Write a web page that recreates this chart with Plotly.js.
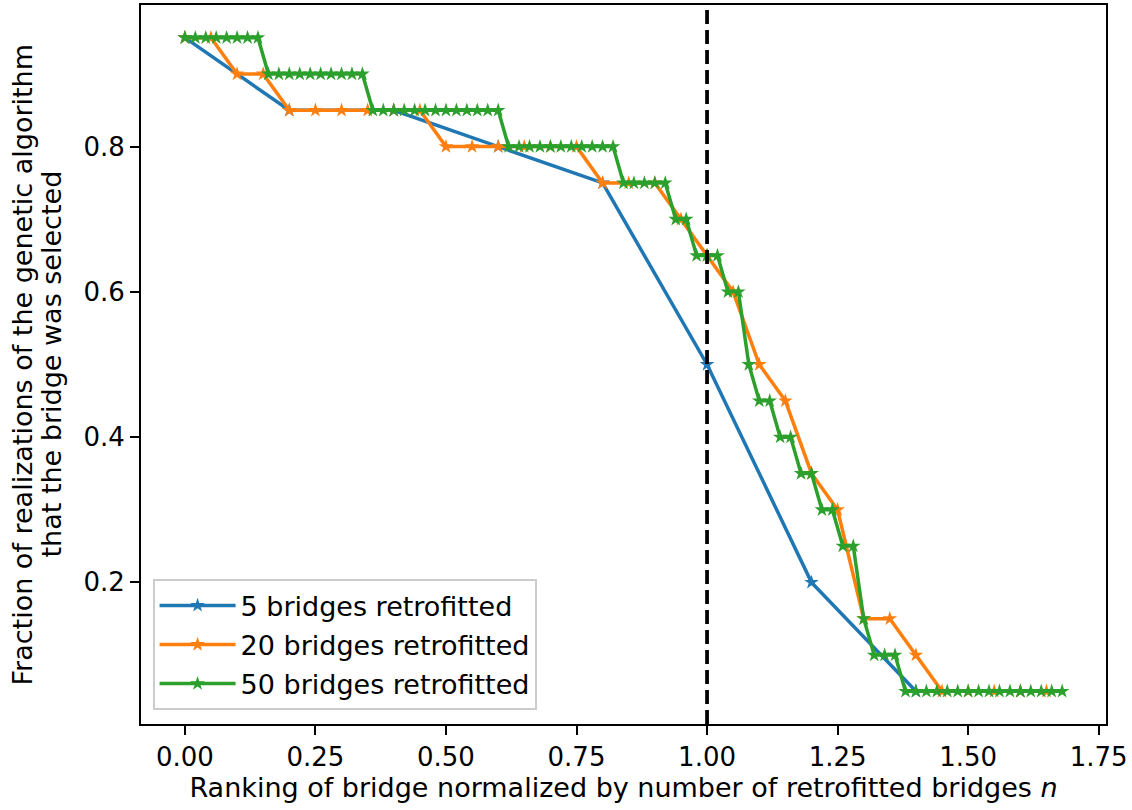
<!DOCTYPE html>
<html>
<head>
<meta charset="utf-8">
<script src="https://cdn.plot.ly/plotly-3.0.1.min.js"></script>
<style>html,body{margin:0;padding:0;background:#fff;}#chart{width:1132px;height:810px;}</style>
</head>
<body>
<div id="chart"></div>
<script>
// Blue: 5 bridges retrofitted (step 0.2)
const x5 = [0, 0.2, 0.4, 0.6, 0.8, 1.0, 1.2, 1.4, 1.6];
const y5 = [0.95, 0.85, 0.85, 0.80, 0.75, 0.50, 0.20, 0.05, 0.05];

// Orange: 20 bridges retrofitted (step 0.05)
const x20 = [0, 0.05, 0.10, 0.15, 0.20, 0.25, 0.30, 0.35, 0.40, 0.45, 0.50, 0.55, 0.60, 0.65, 0.70, 0.75, 0.80, 0.85, 0.90, 0.95,
             1.00, 1.05, 1.10, 1.15, 1.20, 1.25, 1.30, 1.35, 1.40, 1.45, 1.50, 1.55, 1.60, 1.65];
const y20 = [0.95, 0.95, 0.90, 0.90, 0.85, 0.85, 0.85, 0.85, 0.85, 0.85, 0.80, 0.80, 0.80, 0.80, 0.80, 0.80, 0.75, 0.75, 0.75, 0.70,
             0.65, 0.60, 0.50, 0.45, 0.35, 0.30, 0.15, 0.15, 0.10, 0.05, 0.05, 0.05, 0.05, 0.05];

// Green: 50 bridges retrofitted (step 0.02)
const x50 = [0, 0.02, 0.04, 0.06, 0.08, 0.10, 0.12, 0.14, 0.16, 0.18, 0.20, 0.22, 0.24, 0.26, 0.28, 0.30, 0.32, 0.34,
             0.36, 0.38, 0.40, 0.42, 0.44, 0.46, 0.48, 0.50, 0.52, 0.54, 0.56, 0.58, 0.60, 0.62, 0.64, 0.66, 0.68, 0.70,
             0.72, 0.74, 0.76, 0.78, 0.80, 0.82, 0.84, 0.86, 0.88, 0.90, 0.92, 0.94, 0.96, 0.98, 1.00, 1.02, 1.04, 1.06,
             1.08, 1.10, 1.12, 1.14, 1.16, 1.18, 1.20, 1.22, 1.24, 1.26, 1.28, 1.30, 1.32, 1.34, 1.36, 1.38, 1.40, 1.42,
             1.44, 1.46, 1.48, 1.50, 1.52, 1.54, 1.56, 1.58, 1.60, 1.62, 1.64, 1.66, 1.68];
const y50 = [0.95, 0.95, 0.95, 0.95, 0.95, 0.95, 0.95, 0.95, 0.90, 0.90, 0.90, 0.90, 0.90, 0.90, 0.90, 0.90, 0.90, 0.90,
             0.85, 0.85, 0.85, 0.85, 0.85, 0.85, 0.85, 0.85, 0.85, 0.85, 0.85, 0.85, 0.85, 0.80, 0.80, 0.80, 0.80, 0.80,
             0.80, 0.80, 0.80, 0.80, 0.80, 0.80, 0.75, 0.75, 0.75, 0.75, 0.75, 0.70, 0.70, 0.65, 0.65, 0.65, 0.60, 0.60,
             0.50, 0.45, 0.45, 0.40, 0.40, 0.35, 0.35, 0.30, 0.30, 0.25, 0.25, 0.15, 0.10, 0.10, 0.10, 0.05, 0.05, 0.05,
             0.05, 0.05, 0.05, 0.05, 0.05, 0.05, 0.05, 0.05, 0.05, 0.05, 0.05, 0.05, 0.05];

const seriesNames = ['5 bridges retrofitted', '20 bridges retrofitted', '50 bridges retrofitted'];
const seriesColors = ['#1f77b4', '#ff7f0e', '#2ca02c'];
const xTicks = [0, 0.25, 0.5, 0.75, 1.0, 1.25, 1.5, 1.75];
const yTicks = [0.2, 0.4, 0.6, 0.8];
const refLineX = 1.0;
const xTitle = 'Ranking of bridge normalized by number of retrofitted bridges <i>n</i>';
const yTitleLines = ['Fraction of realizations of the genetic algorithm', 'that the bridge was selected'];

const FONT = 'DejaVu Sans, sans-serif';
const FS = 26;
const FT = 27;

const xs = [x5, x20, x50], ys = [y5, y20, y50];
const traces = xs.map((x, i) => ({
  x: x, y: ys[i], type: 'scatter', mode: 'lines+markers',
  name: seriesNames[i],
  legendgroup: 'g' + i,
  line: {color: seriesColors[i], width: 3.5},
  marker: {symbol: 'star', size: 11, color: seriesColors[i], line: {width: 0}}
}));

const yTitleShift = [-119, -90];
const annotations = yTitleLines.map((t, i) => ({
  text: t, xref: 'paper', yref: 'paper', x: 0, y: 0.5,
  xanchor: 'center', yanchor: 'middle', xshift: yTitleShift[i],
  textangle: -90, showarrow: false,
  font: {family: FONT, size: FT, color: '#000'}
}));

const layout = {
  width: 1132, height: 810,
  margin: {l: 141, r: 26, t: 5, b: 86},
  paper_bgcolor: '#fff', plot_bgcolor: '#fff',
  font: {family: FONT, size: FS, color: '#000'},
  showlegend: true,
  legend: {
    x: 0.012, y: 0.019, xanchor: 'left', yanchor: 'bottom',
    bgcolor: 'rgba(255,255,255,0.8)', bordercolor: '#cccccc', borderwidth: 2,
    font: {family: FONT, size: FT, color: '#000'},
    itemwidth: 76,
    tracegroupgap: 1
  },
  xaxis: {
    range: [-0.084, 1.764],
    tickvals: xTicks, ticktext: xTicks.map(v => v.toFixed(2)),
    ticks: 'outside', ticklen: 9, tickwidth: 2, tickcolor: '#000',
    showline: true, linecolor: '#000', linewidth: 2, mirror: true,
    showgrid: false, zeroline: false,
    tickfont: {family: FONT, size: FS, color: '#000'},
    title: {text: xTitle, font: {family: FONT, size: FT, color: '#000'}, standoff: 6}
  },
  yaxis: {
    range: [0.005, 0.995],
    tickvals: yTicks, ticktext: yTicks.map(v => v.toFixed(1)),
    ticks: 'outside', ticklen: 9, tickwidth: 2, tickcolor: '#000',
    showline: true, linecolor: '#000', linewidth: 2, mirror: true,
    showgrid: false, zeroline: false,
    tickfont: {family: FONT, size: FS, color: '#000'}
  },
  annotations: annotations,
  shapes: [{
    type: 'line', xref: 'x', yref: 'paper', x0: refLineX, x1: refLineX, y0: 0, y1: 1,
    line: {color: '#000', width: 3.75, dash: '14px,6px'}
  }]
};

Plotly.newPlot('chart', traces, layout, {displayModeBar: false, staticPlot: true});
</script>
</body>
</html>
